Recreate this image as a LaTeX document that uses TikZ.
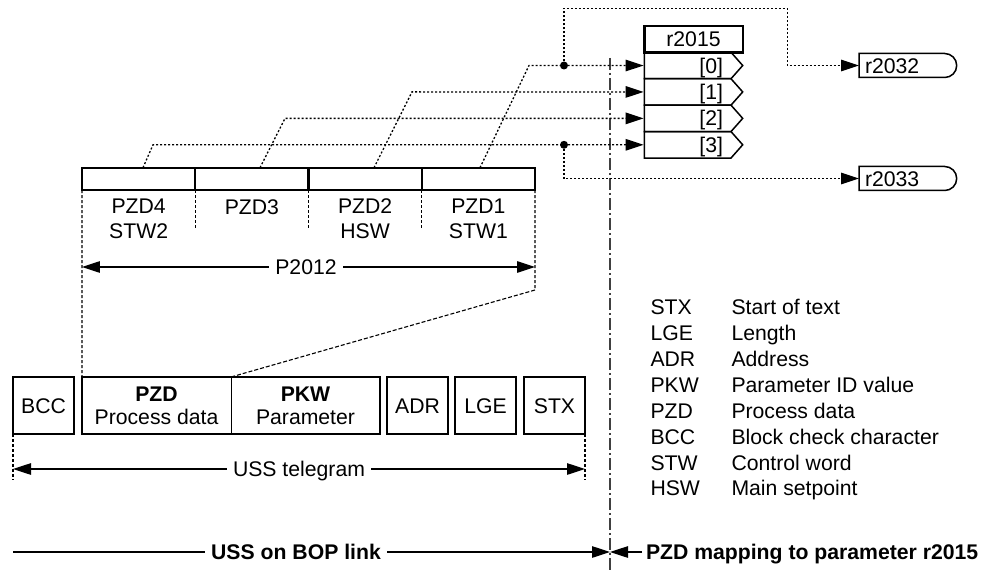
\documentclass[tikz,border=0pt]{standalone}
\usepackage{fontspec}
\setmainfont{Liberation Sans}
\usetikzlibrary{arrows.meta,shapes.misc}
\begin{document}
\begin{tikzpicture}[x=1pt,y=-1pt,
  every node/.style={inner sep=0pt, outer sep=0pt, font=\fontsize{21.2}{25}\selectfont},
  lbl/.style={text height=15.2pt, text depth=0pt},
  boldfont/.style={font=\fontsize{21.2}{25}\selectfont\bfseries},
  tip/.style={-{Triangle[length=18pt,width=11.5pt]}},
  bothtips/.style={{Triangle[length=18pt,width=11.5pt]}-{Triangle[length=18pt,width=11.5pt]}},
  dotl/.style={line width=1.3pt, dash pattern=on 2pt off 2pt},
  dashl/.style={line width=1.1pt, dash pattern=on 3pt off 2pt},
  diagl/.style={line width=1.1pt, dash pattern=on 4pt off 2pt},
  ddot/.style={line width=1.6pt, black!75, dash pattern=on 12pt off 3pt on 2pt off 3pt},
  cell/.style={draw, line width=2pt, minimum width=113.25pt, minimum height=22.3pt},
  tbox/.style={draw, line width=2pt, minimum width=61pt, minimum height=57pt, lbl},
  half/.style={draw, line width=1pt, minimum width=149pt, minimum height=57pt, align=center, font=\fontsize{21.2}{22.7}\selectfont},
  outbox/.style={draw, line width=1.5pt, rounded rectangle, rounded rectangle left arc=none, minimum width=97.7pt, minimum height=24pt},
  junction/.style={circle, fill, minimum size=8pt},
  gapfill/.style={fill=white, inner xsep=6pt, lbl}
]
\useasboundingbox (0,0) rectangle (987,572);

% separator
\coordinate (ddt) at (610,58);
\coordinate (ddb) at (610,572);
\draw[ddot] (ddt) -- (ddb);

% r2015 rows
\foreach \i/\t in {0/52.3,1/78.73,2/105.16,3/131.59} {
  \pgfmathsetmacro\b{\t+26.43}
  \pgfmathsetmacro\m{\t+13.215}
  \draw[line width=1.5pt] (644.3,\t) -- (731,\t) -- (742.7,\m) -- (731,\b) -- (644.3,\b) -- cycle;
  \coordinate (in\i) at (643.6,\m);
  \node[lbl, anchor=east] (lab\i) at (723,\m) {[\i]};
}
\node[draw, line width=2.4pt, minimum width=98.4pt, minimum height=26.3pt, lbl] (hdr) at (693.5,39.2) {r2015};

% output boxes
\node[outbox] (o1) at (907.85,65.5) {};
\node[lbl, anchor=west] (o1t) at (865,65.5) {r2032};
\node[outbox] (o2) at (907.85,178.5) {};
\node[lbl, anchor=west] (o2t) at (865,178.5) {r2033};

% PZD cells
\node[cell] (c4) at (138.6,178.9) {};
\node[cell] (c3) at (251.9,178.9) {};
\node[cell] (c2) at (365.1,178.9) {};
\node[cell] (c1) at (478.4,178.9) {};

\node[align=center] (l4) at (138.6,219.2) {PZD4\\STW2};
\node[lbl] (l3) at (251.9,206.7) {PZD3};
\node[align=center] (l2) at (365.1,219.2) {PZD2\\HSW};
\node[align=center] (l1) at (478.4,219.2) {PZD1\\STW1};

% mapping lines
\coordinate (f1) at (480,167.7); \coordinate (g1) at (529,65.5);
\coordinate (f2) at (374,167.7); \coordinate (g2) at (412,91.9);
\coordinate (f3) at (260,167.7); \coordinate (g3) at (285,118.4);
\coordinate (f4) at (143,167.7); \coordinate (g4) at (153,144.8);
\draw[dotl, tip] (f1) -- (g1) -- (in0);
\draw[dotl, tip] (f2) -- (g2) -- (in1);
\draw[dotl, tip] (f3) -- (g3) -- (in2);
\draw[dotl, tip] (f4) -- (g4) -- (in3);

\node[junction] (d0) at (564,65.5) {};
\node[junction] (d3) at (564,144.8) {};
\coordinate (k1) at (564,8.3);
\coordinate (k2) at (787.3,8.3);
\draw[dotl, tip] (d0.center) -- (k1) -- (k2) -- (k2 |- o1.west) -- (o1.west);
\draw[dotl, tip] (d3.center) -- (d3.center |- o2.west) -- (o2.west);

% telegram
\node[tbox] (bcc) at (43.5,405.5) {BCC};
\node[half] (tpzd) at (156.5,405.5) {\textbf{PZD}\\Process data};
\node[half] (tpkw) at (305.5,405.5) {\textbf{PKW}\\Parameter};
\draw[line width=2pt] (tpzd.north west) rectangle (tpkw.south east);
\node[tbox] (adr) at (417.5,405.5) {ADR};
\node[tbox] (lge) at (485.5,405.5) {LGE};
\node[tbox] (stx) at (554.5,405.5) {STX};

% dashed guides
\draw[dashl] (c4.south east) -- ++(0,38);
\draw[dashl] (c3.south east) -- ++(0,38);
\draw[dashl] (c2.south east) -- ++(0,38);
\draw[dashl] (c4.south west) -- (tpzd.north west);
\coordinate (bend) at (535,290);
\draw[dashl] (c1.south east) -- (bend);
\draw[diagl] (bend) -- (tpzd.north east);

% P2012
\coordinate (yP) at (0,267);
\draw[bothtips, line width=1.1pt] (c4.south west |- yP) -- (c1.south east |- yP);
\node[gapfill] (p2012) at (306,267) {P2012};

% USS telegram
\draw[dashl] (bcc.south west) -- ++(0,46);
\draw[dashl] (stx.south east) -- ++(0,46);
\coordinate (yU) at (0,469);
\draw[bothtips, line width=1.1pt] (bcc.south west |- yU) -- (stx.south east |- yU);
\node[gapfill] (usst) at (299,469) {USS telegram};

% bottom
\coordinate (bl) at (13,552);
\coordinate (bm) at (610,552);
\coordinate (br) at (642,552);
\draw[tip, line width=1.1pt] (bl) -- (bm);
\draw[tip, line width=1.1pt] (br) -- (bm);
\node[gapfill, boldfont] (bop) at (296,552) {USS on BOP link};
\node[lbl, boldfont, anchor=west] (pzdmap) at (646,552) {PZD mapping to parameter r2015};

% legend
\foreach \i/\a/\d in {0/STX/Start of text, 1/LGE/Length, 2/ADR/Address, 3/PKW/Parameter ID value, 4/PZD/Process data, 5/BCC/Block check character, 6/STW/Control word, 7/HSW/Main setpoint} {
  \node[lbl, anchor=west] (ab\i) at (650.5,{307.3+\i*25.87}) {\a};
  \node[lbl, anchor=west] (de\i) at (731.5,{307.3+\i*25.87}) {\d};
}
\end{tikzpicture}
\end{document}
